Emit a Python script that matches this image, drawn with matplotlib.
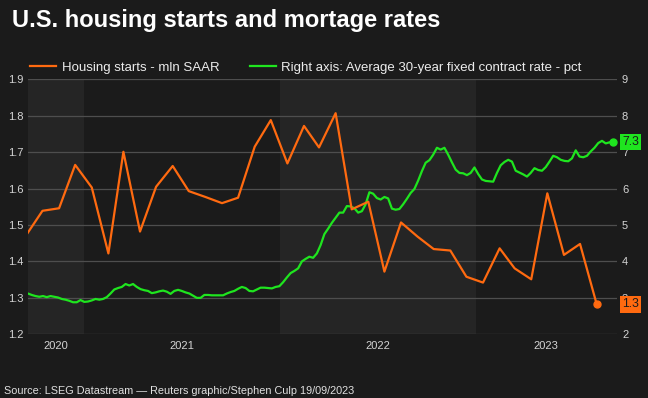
import numpy as np
import pandas as pd
import matplotlib
matplotlib.use('Agg')
import matplotlib.pyplot as plt
import matplotlib.dates as mdates
import matplotlib.transforms as mtransforms
from matplotlib.lines import Line2D

plt.rcParams['font.family'] = ['Liberation Sans', 'DejaVu Sans']

#==== data ====#
# housing starts, mln SAAR, monthly Sep 2020 - Aug 2023
starts_months = pd.date_range('2020-09-01', '2023-08-01', freq='MS') + pd.Timedelta(days=14)
starts = [1.473, 1.539, 1.546, 1.665, 1.603, 1.422, 1.701, 1.482, 1.605, 1.662, 1.593, 1.577,
          1.560, 1.575, 1.715, 1.788, 1.669, 1.772, 1.713, 1.807, 1.543, 1.564, 1.372, 1.507,
          1.468, 1.434, 1.430, 1.358, 1.342, 1.436, 1.381, 1.351, 1.587, 1.418, 1.448, 1.283]

# 30-year fixed contract rate, pct, weekly (week ending Friday) 18 Sep 2020 - 15 Sep 2023
rate_weeks = pd.date_range('2020-09-18', '2023-09-15', freq='7D')
rate = [3.12, 3.08, 3.05, 3.03, 3.05, 3.02, 3.05, 3.03, 3.01, 2.97,
        2.95, 2.92, 2.88, 2.88, 2.94, 2.89, 2.90, 2.93, 2.97, 2.95,
        2.97, 3.02, 3.12, 3.23, 3.27, 3.30, 3.38, 3.34, 3.38, 3.30,
        3.24, 3.21, 3.19, 3.13, 3.15, 3.18, 3.20, 3.17, 3.11, 3.19,
        3.22, 3.19, 3.15, 3.12, 3.06, 3.00, 3.00, 3.08, 3.08, 3.07,
        3.07, 3.07, 3.07, 3.12, 3.16, 3.19, 3.25, 3.30, 3.27, 3.19,
        3.18, 3.23, 3.28, 3.28, 3.27, 3.26, 3.30, 3.32, 3.43, 3.56,
        3.68, 3.74, 3.81, 4.00, 4.07, 4.13, 4.10, 4.22, 4.45, 4.75,
        4.90, 5.06, 5.20, 5.34, 5.34, 5.52, 5.51, 5.46, 5.34, 5.38,
        5.57, 5.90, 5.86, 5.74, 5.70, 5.77, 5.73, 5.45, 5.42, 5.44,
        5.57, 5.72, 5.88, 5.99, 6.22, 6.48, 6.71, 6.78, 6.93, 7.12,
        7.07, 7.12, 6.93, 6.72, 6.52, 6.43, 6.42, 6.37, 6.43, 6.58,
        6.40, 6.25, 6.21, 6.20, 6.19, 6.43, 6.64, 6.73, 6.79, 6.74,
        6.49, 6.44, 6.39, 6.33, 6.43, 6.56, 6.51, 6.49, 6.59, 6.74,
        6.90, 6.86, 6.79, 6.76, 6.75, 6.83, 7.05, 6.88, 6.86, 6.90,
        7.02, 7.12, 7.25, 7.31, 7.24, 7.27, 7.28]

years = ['2020', '2021', '2022', '2023']
left_ticks = [1.2, 1.3, 1.4, 1.5, 1.6, 1.7, 1.8, 1.9]
right_ticks = [2, 3, 4, 5, 6, 7, 8, 9]

#==== style ====#
BG = '#1b1b1b'
BAND = '#252525'
GRID = '#4e4e4e'
TICK = '#d4d4d4'
ORANGE = '#ff6a10'
GREEN = '#1fe51f'

x_start = pd.Timestamp('2020-09-18')
x_end = pd.Timestamp('2023-09-22')

fig = plt.figure(figsize=(6.48, 3.98), dpi=100, facecolor=BG)
ax2 = fig.add_axes([28/648, 1-334.3/398, (617-28)/648, (334.3-79.3)/398])
ax = ax2.twinx()
ax.yaxis.tick_left()
ax2.yaxis.tick_right()
ax.set_zorder(ax2.get_zorder() + 1)
ax.patch.set_visible(False)
ax2.patch.set_visible(True)
ax2.set_facecolor(BG)

# alternating year bands
bounds = [x_start] + [pd.Timestamp(f'{y}-01-01') for y in years[1:]] + [x_end]
for i in range(len(years)):
    if i % 2 == 0:
        ax2.axvspan(bounds[i], bounds[i+1], color=BAND, lw=0, zorder=0)

ax2.set_ylim(2, 9)
ax.set_ylim(1.2, 1.9)
ax2.set_yticks(right_ticks)
ax2.set_yticklabels([str(t) for t in right_ticks])
ax.set_yticks(left_ticks)
ax.set_yticklabels([f'{t:.1f}' for t in left_ticks])
ax2.grid(axis='y', color=GRID, lw=0.9, zorder=0.5)
ax2.set_axisbelow(True)

ax2.plot(rate_weeks, rate, color=GREEN, lw=1.6, zorder=3, solid_capstyle='round')
ax2.plot(rate_weeks[-1], rate[-1], 'o', color=GREEN, ms=5, zorder=4)
ax.plot(starts_months, starts, color=ORANGE, lw=1.6, zorder=3)
ax.plot(starts_months[-1], starts[-1], 'o', color=ORANGE, ms=5, zorder=4)

# year labels centred in the visible part of each year
centers = [bounds[i] + (bounds[i+1] - bounds[i]) / 2 for i in range(len(years))]
for a in (ax, ax2):
    a.set_xlim(x_start, x_end)
    for s in a.spines.values():
        s.set_visible(False)
ax2.set_xticks(centers)
ax2.set_xticklabels(years)
ax.tick_params(axis='x', bottom=False, labelbottom=False)
ax2.tick_params(axis='x', length=0, pad=4.5, labelsize=8, colors=TICK)
ax.tick_params(axis='y', length=0, pad=3.4, labelsize=8, colors=TICK)
ax2.tick_params(axis='y', length=0, pad=3.6, labelsize=8, colors=TICK)

# last-value boxes
shift = mtransforms.ScaledTranslation(3.6/72, 0, fig.dpi_scale_trans)
trans_l = mtransforms.blended_transform_factory(ax.transAxes, ax.transData) + shift
trans_r = mtransforms.blended_transform_factory(ax.transAxes, ax2.transData) + shift
ax.text(1.0, rate[-1], f'{rate[-1]:.1f}', transform=trans_r,
        ha='left', va='center', fontsize=8.8, color='#1b1b1b', clip_on=False, zorder=10,
        bbox=dict(boxstyle='square,pad=0.2', fc=GREEN, ec='none'))
ax.text(1.0, starts[-1], f'{starts[-1]:.1f}', transform=trans_l,
        ha='left', va='center', fontsize=8.8, color='#1b1b1b', clip_on=False, zorder=10,
        bbox=dict(boxstyle='square,pad=0.2', fc=ORANGE, ec='none'))

# legend
handles = [Line2D([], [], color=ORANGE, lw=1.6), Line2D([], [], color=GREEN, lw=1.6)]
fig.legend(handles, ['Housing starts - mln SAAR', 'Right axis: Average 30-year fixed contract rate - pct'],
           loc='center left', bbox_to_anchor=(30/648, 1-68/398), ncol=2, frameon=False,
           fontsize=9.5, labelcolor='#ececec', handlelength=2.0, handletextpad=0.4,
           columnspacing=2.3, borderpad=0, borderaxespad=0)

fig.text(12/648, 1-27.3/398, 'U.S. housing starts and mortage rates', fontsize=17,
         fontweight='bold', color='white', va='baseline', ha='left')
fig.text(4/648, 1-394/398, 'Source: LSEG Datastream \u2014 Reuters graphic/Stephen Culp 19/09/2023',
         fontsize=7.8, color='#e0e0e0', va='baseline', ha='left')

fig.savefig('out.png', dpi=100, facecolor=BG)
